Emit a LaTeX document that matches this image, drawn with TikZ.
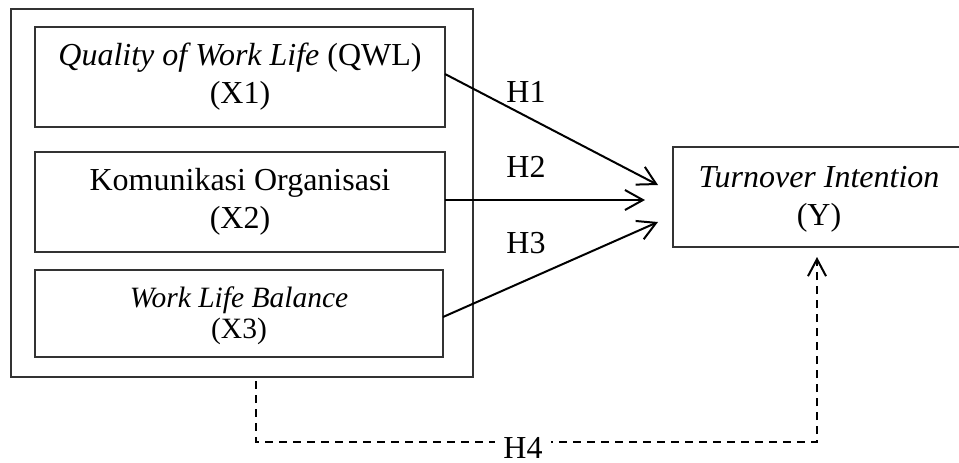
\documentclass[tikz,border=0pt]{standalone}
\usepackage{fontspec}
\setmainfont{Liberation Serif}
\usetikzlibrary{arrows.meta}
\begin{document}
\begin{tikzpicture}[x=0.5pt,y=-0.5pt,
  box/.style={draw=black!80, line width=0.6pt, inner sep=0pt, align=center,
    font=\fontsize{16}{19}\selectfont},
  lbl/.style={inner sep=0pt, font=\fontsize{16}{16}\selectfont},
  arr/.style={line width=1pt, -{Straight Barb[length=9pt,width=10pt,line width=1pt]}},
  darr/.style={line width=1pt, dash pattern=on 4pt off 3pt,
    -{Straight Barb[length=8.5pt,width=9pt,line width=1pt]}}]
\useasboundingbox (0,0) rectangle (959,462);
\node[box, minimum width=231pt, minimum height=184pt] (grp) at (242,193) {};
\node[box, minimum width=205pt, minimum height=50pt] (x1) at (240,77)
  {\textit{Quality of Work Life} (QWL)\\(X1)};
\node[box, minimum width=205pt, minimum height=50pt] (x2) at (240,202)
  {Komunikasi Organisasi\\(X2)};
\node[box, minimum width=204pt, minimum height=43.5pt] (x3) at (239,313.5) {};
\node[inner sep=0pt, align=center, font=\fontsize{14.75}{15.75}\selectfont] (x3t) at (239,315.5)
  {\textit{Work Life Balance}\\(X3)};
\node[box, minimum width=146pt, minimum height=50pt] (y) at (819,197) {};
\node[inner sep=0pt, align=center, font=\fontsize{16}{19}\selectfont] (yt) at (819,199.5)
  {\textit{Turnover Intention}\\(Y)};
\coordinate (t1) at (658,185);
\coordinate (t2) at (645,200);
\coordinate (t3) at (658,222);
\coordinate (s1) at (445,74);
\coordinate (s2) at (445,200);
\coordinate (s3) at (443,317);
\draw[arr] (s1) -- (t1);
\draw[arr] (s2) -- (t2);
\draw[arr] (s3) -- (t3);
\node[lbl] (h1) at (526,92) {H1};
\node[lbl] (h2) at (526,167) {H2};
\node[lbl] (h3) at (526,243.5) {H3};
\coordinate (d0) at (256,381);
\coordinate (d1) at (256,442);
\coordinate (d2) at (817,442);
\coordinate (d3) at (817,257);
\draw[darr] (d0) -- (d1) -- (d2) -- (d3);
\node[lbl, fill=white, inner xsep=4pt, inner ysep=0pt] (h4) at (523,447.5) {H4};
\end{tikzpicture}
\end{document}
